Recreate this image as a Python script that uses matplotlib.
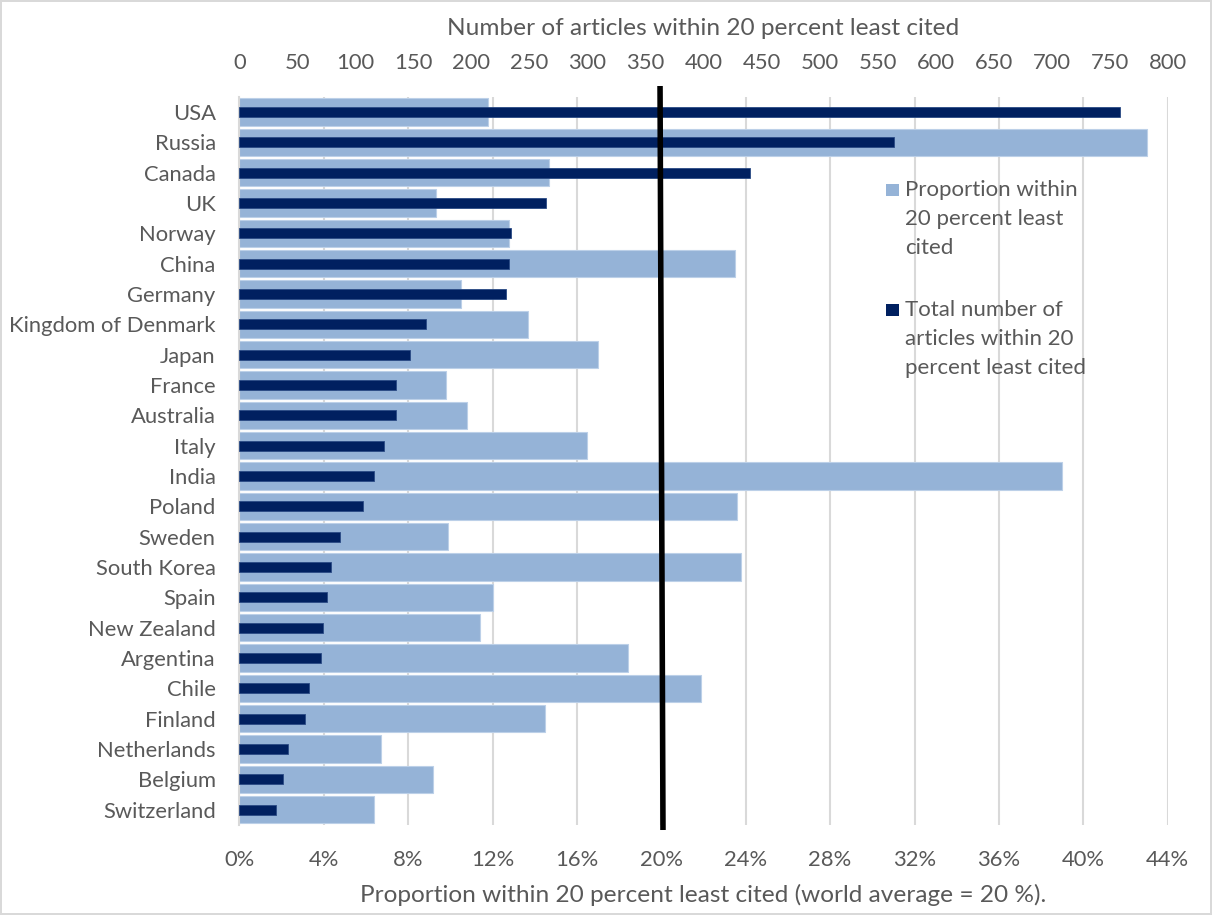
import matplotlib
matplotlib.use("Agg")
import matplotlib.pyplot as plt
from matplotlib.patches import Rectangle

# ---- data ----
countries = ["USA", "Russia", "Canada", "UK", "Norway", "China", "Germany",
             "Kingdom of Denmark", "Japan", "France", "Australia", "Italy",
             "India", "Poland", "Sweden", "South Korea", "Spain", "New Zealand",
             "Argentina", "Chile", "Finland", "Netherlands", "Belgium",
             "Switzerland"]
proportion = [11.8, 43.0, 14.7, 9.3, 12.8, 23.5, 10.5, 13.7, 17.0, 9.8, 10.8,
              16.5, 39.0, 23.6, 9.9, 23.8, 12.0, 11.4, 18.4, 21.9, 14.5, 6.7,
              9.2, 6.4]
articles = [759, 564, 440, 264, 234, 232, 230, 161, 147, 135, 135, 125, 116,
            107, 87, 79, 76, 72, 70, 60, 57, 42, 38, 32]
world_average = 20
bottom_ticks = list(range(0, 45, 4))
top_ticks = list(range(0, 801, 50))

LIGHT = "#95B3D7"
DARK = "#002060"
TXT = "#595959"
GRID = "#D9D9D9"

plt.rcParams['font.family'] = ['Lato', 'DejaVu Sans']
FS = 15.8
FS_TITLE = 17.6
FS_LEG = 16

fig = plt.figure(figsize=(12.12, 9.15), dpi=100)
fig.patch.set_edgecolor(GRID)
fig.patch.set_linewidth(1.5)

L, R, T, B = 239.3, 1167.7, 96.7, 825.0
W, H = 1212, 915
ax = fig.add_axes([L / W, 1 - B / H, (R - L) / W, (B - T) / H])

ypos = list(range(len(countries)))
ax.barh(ypos, proportion, height=0.9, color=LIGHT, edgecolor="#BCD0E8",
        linewidth=0.8, zorder=2)
ax.set_xlim(0, 44)
ax.set_ylim(len(countries) - 0.5, -0.5)
ax.set_xticks(bottom_ticks)
ax.set_xticklabels([f"{t}%" for t in bottom_ticks])
ax.set_yticks(ypos)
ax.set_yticklabels(countries)
ax.tick_params(axis='x', length=0, pad=18, labelsize=FS, labelcolor=TXT)
ax.tick_params(axis='y', length=0, pad=17, labelsize=FS, labelcolor=TXT)
ax.grid(axis='x', color=GRID, linewidth=1.5, zorder=0)
ax.set_axisbelow(True)
for s in ['top', 'right', 'bottom']:
    ax.spines[s].set_visible(False)
ax.spines['left'].set_color(GRID)
ax.spines['left'].set_linewidth(1.5)
ax.set_xlabel("Proportion within 20 percent least cited (world average = 20 %).",
              fontsize=FS_TITLE, color=TXT)
ax.xaxis.set_label_coords(0.5, (B - 895) / (B - T))
ax.xaxis.label.set_va('center')

ax2 = ax.twiny()
ax2.barh(ypos, articles, height=0.33, color=DARK, edgecolor="#2A4A85",
         linewidth=0.6, zorder=3)
ax2.set_xlim(0, 800)
ax2.set_xticks(top_ticks)
ax2.tick_params(axis='x', length=0, pad=17, labelsize=FS, labelcolor=TXT)
for s in ['top', 'right', 'bottom', 'left']:
    ax2.spines[s].set_visible(False)
ax2.set_xlabel("Number of articles within 20 percent least cited",
               fontsize=FS_TITLE, color=TXT)
ax2.xaxis.set_label_coords(0.5, 1 + (T - 28) / (B - T))
ax2.xaxis.label.set_va('center')

# world average line (slightly slanted, as drawn in the original)
band = (B - T) / len(countries)
y_top = -0.5 - (T - 86) / band
y_bot = len(countries) - 0.5 + (830 - B) / band
ax2.plot([world_average - 0.06, world_average + 0.08], [y_top, y_bot],
         color="black", linewidth=4, transform=ax.transData, clip_on=False,
         zorder=5, solid_capstyle='butt')

# legend
entries = [
    (LIGHT, ["Proportion within", "20 percent least", "cited"], 190),
    (DARK, ["Total number of", "articles within 20", "percent least cited"], 310),
]
for col, lines, y0 in entries:
    fig.patches.append(Rectangle((886 / W, 1 - (y0 + 6) / H), 13 / W, 12 / H,
                                 transform=fig.transFigure, facecolor=col,
                                 edgecolor='none'))
    for i, line in enumerate(lines):
        fig.text(905 / W, 1 - (y0 + i * 29) / H, line, fontsize=FS_LEG,
                 color=TXT, va='center', ha='left')

fig.savefig("out.png", dpi=100)
